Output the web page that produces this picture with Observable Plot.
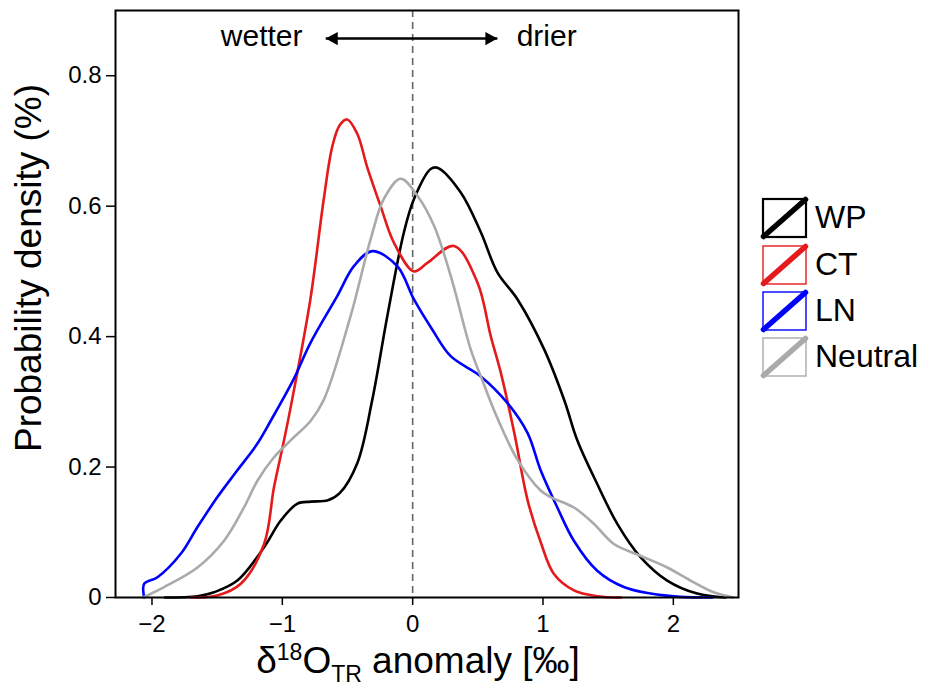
<!DOCTYPE html>
<html><head><meta charset="utf-8">
<script src="https://cdn.jsdelivr.net/npm/d3@7"></script>
<script src="https://cdn.jsdelivr.net/npm/@observablehq/plot@0.6"></script>
<style>
body{margin:0;background:#fff;font-family:"Liberation Sans",Arial,sans-serif;}
#wrap{position:relative;width:925px;height:686px;}
.leg{position:absolute;left:762px;display:flex;align-items:center;height:39px;}
.leg span{font-size:32px;margin-left:8px;color:#000;}
</style></head><body><div id="wrap"></div>
<script>
const seriesNames = ["WP", "CT", "LN", "Neutral"];
const seriesColors = ["#000000", "#e41a1c", "#0000ff", "#aaaaaa"];

const wpX = [-1.9, -1.65, -1.524, -1.345, -1.14, -1.012, -0.884, -0.782, -0.65, -0.56, -0.425, -0.31, -0.195, -0.067, 0.01, 0.138, 0.19, 0.369, 0.523, 0.651, 0.805, 1.01, 1.164, 1.263, 1.416, 1.57, 1.748, 1.953, 2.183, 2.4];
const wpY = [0, 0.002, 0.008, 0.026, 0.077, 0.118, 0.144, 0.147, 0.149, 0.16, 0.206, 0.303, 0.431, 0.56, 0.611, 0.657, 0.659, 0.621, 0.56, 0.498, 0.457, 0.38, 0.302, 0.241, 0.174, 0.113, 0.062, 0.026, 0.006, 0];

const ctX = [-1.7, -1.5, -1.319, -1.14, -1.064, -0.987, -0.925, -0.785, -0.682, -0.616, -0.56, -0.502, -0.425, -0.349, -0.246, -0.144, 0.01, 0.113, 0.318, 0.497, 0.6, 0.677, 0.78, 0.882, 0.982, 1.084, 1.237, 1.42, 1.6];
const ctY = [0, 0.003, 0.021, 0.082, 0.169, 0.241, 0.303, 0.457, 0.611, 0.692, 0.724, 0.733, 0.711, 0.66, 0.6, 0.544, 0.5, 0.513, 0.539, 0.483, 0.4, 0.344, 0.252, 0.149, 0.085, 0.036, 0.011, 0.002, 0];

const lnX = [-2.06, -2.06, -1.958, -1.779, -1.651, -1.498, -1.345, -1.191, -1.089, -0.915, -0.785, -0.579, -0.451, -0.31, -0.118, 0.01, 0.15, 0.292, 0.523, 0.728, 0.882, 0.982, 1.11, 1.237, 1.416, 1.62, 1.825, 2.05, 2.3];
const lnY = [0, 0.021, 0.031, 0.067, 0.108, 0.154, 0.195, 0.236, 0.271, 0.334, 0.39, 0.462, 0.508, 0.531, 0.508, 0.457, 0.411, 0.37, 0.339, 0.298, 0.252, 0.195, 0.138, 0.087, 0.041, 0.016, 0.006, 0.001, 0];

const ntX = [-2.07, -1.907, -1.651, -1.447, -1.294, -1.191, -1.064, -0.936, -0.782, -0.682, -0.477, -0.323, -0.221, -0.092, 0.036, 0.164, 0.292, 0.446, 0.523, 0.65, 0.805, 0.982, 1.058, 1.237, 1.39, 1.544, 1.748, 1.953, 2.132, 2.31, 2.46];
const ntY = [0, 0.016, 0.046, 0.087, 0.138, 0.179, 0.215, 0.241, 0.271, 0.303, 0.431, 0.549, 0.611, 0.642, 0.616, 0.57, 0.493, 0.38, 0.339, 0.275, 0.211, 0.164, 0.154, 0.138, 0.113, 0.082, 0.064, 0.046, 0.026, 0.008, 0];

const xTicks = [-2, -1, 0, 1, 2];
const yTicks = [0, 0.2, 0.4, 0.6, 0.8];
const arrowEnds = [-0.667, 0.65];
const arrowLevel = 0.857;
const directionLabels = ["wetter", "drier"];
const directionAt = [-0.845, 0.798];
const yLabel = "Probability density (%)";

const seriesXs = [wpX, ctX, lnX, ntX];
const seriesYs = [wpY, ctY, lnY, ntY];
const rows = [];
seriesNames.forEach((name, i) => {
  seriesXs[i].forEach((x, j) => rows.push({series: name, x, y: seriesYs[i][j]}));
});

// filled arrow heads with the tip at the symbol origin
const headRight = {draw(ctx, size) { const s = Math.sqrt(size / Math.PI); ctx.moveTo(0, 0); ctx.lineTo(-2 * s, -1.1 * s); ctx.lineTo(-2 * s, 1.1 * s); ctx.closePath(); }};
const headLeft = {draw(ctx, size) { const s = Math.sqrt(size / Math.PI); ctx.moveTo(0, 0); ctx.lineTo(2 * s, -1.1 * s); ctx.lineTo(2 * s, 1.1 * s); ctx.closePath(); }};

const font = '"Liberation Sans", Arial, sans-serif';
const plot = Plot.plot({
  width: 925,
  height: 686,
  marginLeft: 115,
  marginRight: 187,
  marginTop: 10,
  marginBottom: 89,
  style: {fontFamily: font, fontSize: "24px", color: "#000", background: "#fff"},
  x: {domain: [-2.28, 2.5]},
  y: {domain: [0, 0.9]},
  color: {domain: seriesNames, range: seriesColors},
  marks: [
    Plot.ruleX([0], {stroke: "#666", strokeWidth: 1.6, strokeDasharray: "7,5"}),
    Plot.line(rows, {x: "x", y: "y", z: "series", stroke: "series", strokeWidth: 2.6, curve: "catmull-rom"}),
    Plot.link([0], {x1: arrowEnds[0], x2: arrowEnds[1], y1: arrowLevel, y2: arrowLevel, stroke: "#000", strokeWidth: 2.4}),
    Plot.dot([arrowEnds[0]], {x: d => d, y: arrowLevel, symbol: headLeft, r: 6, fill: "#000", stroke: null}),
    Plot.dot([arrowEnds[1]], {x: d => d, y: arrowLevel, symbol: headRight, r: 6, fill: "#000", stroke: null}),
    Plot.text([directionLabels[0]], {x: directionAt[0], y: arrowLevel, text: d => d, textAnchor: "end", fontSize: 30, lineAnchor: "middle", dy: -2}),
    Plot.text([directionLabels[1]], {x: directionAt[1], y: arrowLevel, text: d => d, textAnchor: "start", fontSize: 30, lineAnchor: "middle", dy: -2}),
    Plot.frame({stroke: "#000", strokeWidth: 2}),
    Plot.axisX({ticks: xTicks, tickSize: 8, tickPadding: 9, label: null, strokeWidth: 1.5, tickFormat: d3.format("d")}),
    Plot.axisY({ticks: yTicks, tickSize: 9, tickPadding: 5, label: null, strokeWidth: 1.5,
      tickFormat: d => d === 0 ? "0" : d.toFixed(1)})
  ]
});

const svg = d3.select(plot);
const xl = svg.append("text").attr("x", 418).attr("y", 673).attr("text-anchor", "middle")
  .style("font-size", "37px").style("font-family", font).attr("fill", "#000");
xl.append("tspan").text("δ");
xl.append("tspan").attr("dy", -13).style("font-size", "23px").text("18");
xl.append("tspan").attr("dy", 13).text("O");
xl.append("tspan").attr("dy", 9).style("font-size", "23px").text("TR");
xl.append("tspan").attr("dy", -9).text(" anomaly [‰]");

svg.append("text").attr("transform", "translate(41,268) rotate(-90)").attr("text-anchor", "middle")
  .style("font-size", "37px").style("font-family", font).attr("fill", "#000").text(yLabel);

const wrap = document.getElementById("wrap");
wrap.appendChild(plot);

const legTops = [198, 245, 291, 337];
seriesNames.forEach((name, i) => {
  const div = document.createElement("div");
  div.className = "leg";
  div.style.top = legTops[i] + "px";
  const bw = i === 0 ? 2.2 : 1.4;
  div.innerHTML = `<svg width="45" height="40" style="overflow:visible">
    <rect x="1" y="1" width="43" height="38" fill="none" stroke="${seriesColors[i]}" stroke-width="${bw}"/>
    <line x1="1.5" y1="38.5" x2="43.5" y2="1.5" stroke="${seriesColors[i]}" stroke-width="5.5" stroke-linecap="round"/>
  </svg><span>${name}</span>`;
  wrap.appendChild(div);
});
</script></body></html>
